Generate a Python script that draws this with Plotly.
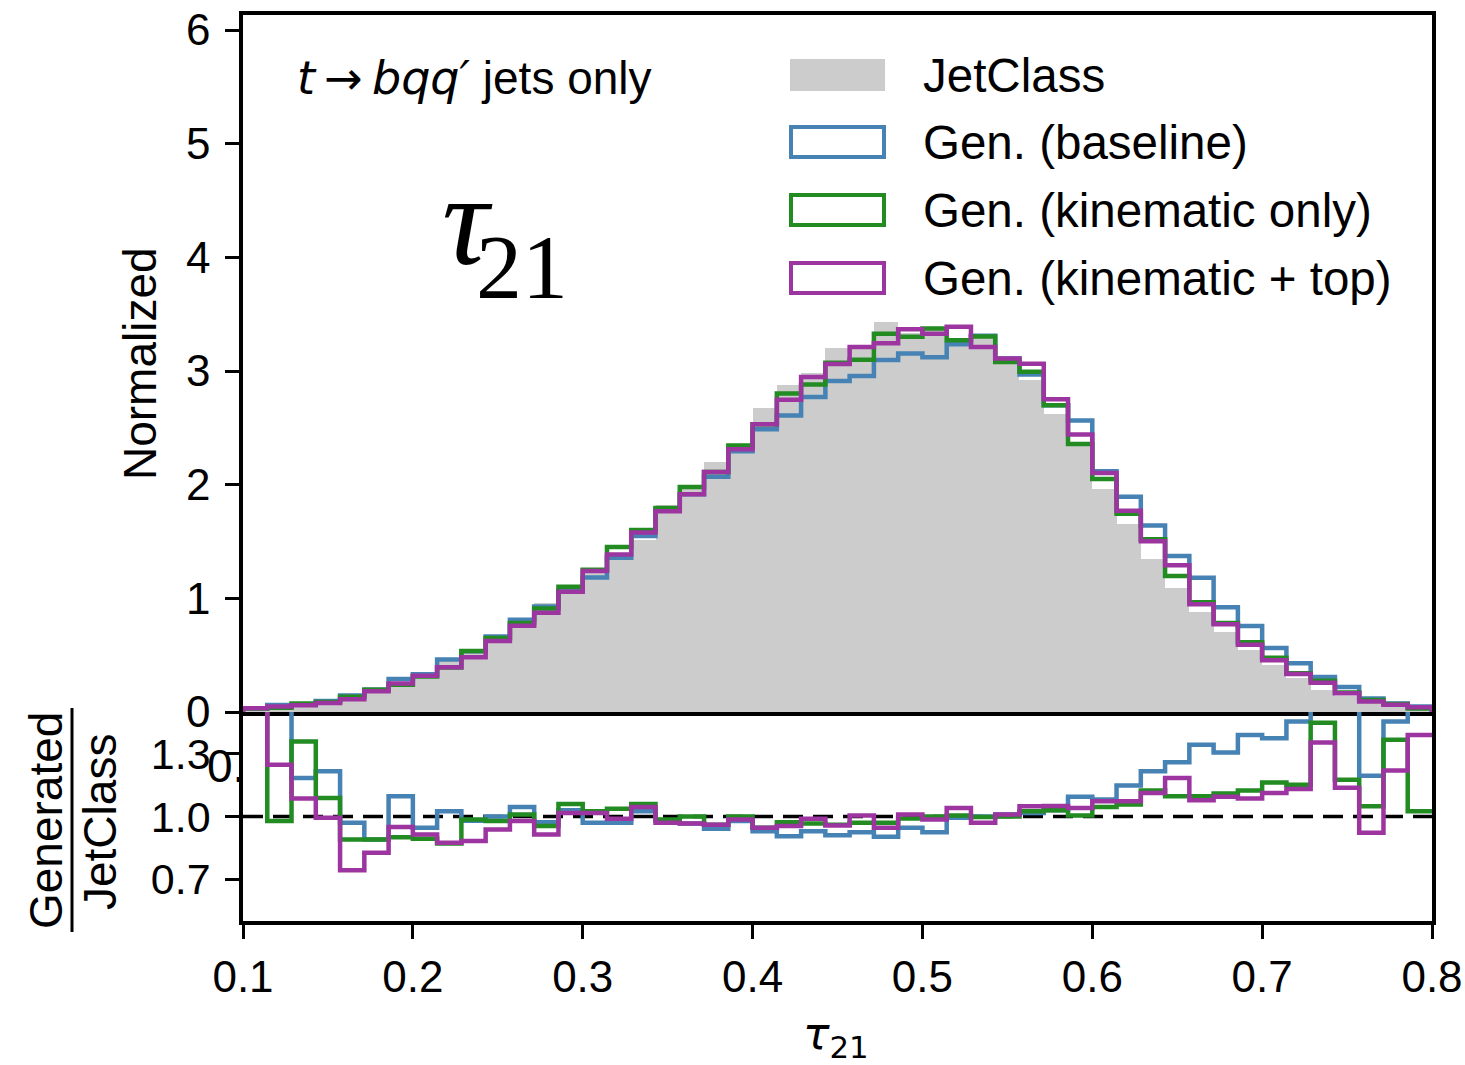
import numpy as np
import plotly.graph_objects as go

# ---------------- data ----------------
bin_edges = np.linspace(0.1, 0.8, 50)  # 49 bins

jetclass = [0.018, 0.038, 0.055, 0.08, 0.15, 0.22, 0.265, 0.35, 0.45, 0.545,
            0.665, 0.775, 0.955, 1.04, 1.22, 1.40, 1.51, 1.82, 1.98, 2.2,
            2.345, 2.675, 2.88, 2.98, 3.2, 3.195, 3.43, 3.335, 3.375, 3.255,
            3.31, 3.08, 2.92, 2.62, 2.345, 1.96, 1.65, 1.35, 1.09, 0.88,
            0.705, 0.545, 0.41, 0.295, 0.19, 0.145, 0.1, 0.052, 0.03]

ratio_baseline = [1.8, 1.6, 1.184, 1.216, 0.97, 0.89, 1.097, 0.946, 1.025, 0.98,
                  1.0, 1.046, 0.973, 1.03, 0.97, 0.97, 1.025, 0.98, 0.967, 0.941,
                  0.978, 0.93, 0.906, 0.93, 0.91, 0.925, 0.903, 0.946, 0.925, 0.994,
                  1.0, 1.01, 1.017, 1.03, 1.094, 1.081, 1.148, 1.216, 1.259, 1.343,
                  1.306, 1.39, 1.375, 1.454, 1.62, 1.52, 1.195, 1.454, 1.6]

ratio_kinematic = [1.7, 0.978, 1.359, 1.089, 0.89, 0.89, 0.901, 0.894, 0.871, 0.986,
                   0.978, 1.01, 0.954, 1.06, 1.025, 1.037, 1.06, 0.986, 1.0, 0.96,
                   1.0, 0.946, 0.973, 0.967, 0.96, 0.97, 0.97, 0.99, 1.0, 1.005,
                   0.998, 1.0, 1.025, 1.03, 1.005, 1.046, 1.057, 1.125, 1.097, 1.097,
                   1.11, 1.125, 1.163, 1.152, 1.449, 1.176, 1.049, 1.367, 1.025]

ratio_kin_top = [1.8, 1.248, 1.086, 0.994, 0.743, 0.827, 0.95, 0.914, 0.875, 0.883,
                 0.938, 0.978, 0.914, 1.017, 1.017, 0.989, 1.046, 0.97, 0.967, 0.96,
                 0.986, 0.946, 0.954, 0.989, 0.957, 1.005, 0.946, 1.01, 0.986, 1.041,
                 0.97, 1.01, 1.049, 1.05, 1.041, 1.073, 1.073, 1.113, 1.184, 1.078,
                 1.094, 1.086, 1.113, 1.132, 1.354, 1.137, 0.922, 1.22, 1.39]

series_names = ["Gen. (baseline)", "Gen. (kinematic only)", "Gen. (kinematic + top)"]
series_colors = ["#4682b4", "#228b22", "#9c35a0"]
x_ticks = [0.1, 0.2, 0.3, 0.4, 0.5, 0.6, 0.7, 0.8]
main_y_ticks = [0, 1, 2, 3, 4, 5, 6]
ratio_y_ticks = [0.7, 1.0, 1.3]

# ---------------- geometry ----------------
W, H = 1465, 1065
L, R, T, B = 243, 1432, 15, 921
SPLIT = 712


def px(x):
    return (x - L) / (R - L)


def py(y):
    return (B - y) / (B - T)


jc = np.array(jetclass)
ratios = [np.array(ratio_baseline), np.array(ratio_kinematic), np.array(ratio_kin_top)]
gens = [jc * r for r in ratios]
centers = 0.5 * (bin_edges[:-1] + bin_edges[1:])
width = bin_edges[1] - bin_edges[0]


def step(vals, close):
    x = list(bin_edges)
    y = list(vals) + [vals[-1]]
    if close:
        x = [bin_edges[0]] + x + [bin_edges[-1]]
        y = [0.0] + y + [0.0]
    return x, y


fig = go.Figure()
fig.add_trace(go.Bar(x=centers, y=jc, width=width, marker=dict(color="#cccccc", line=dict(width=0)),
                     xaxis="x", yaxis="y", name="JetClass"))
for g, c, n in zip(gens, series_colors, series_names):
    xs, ys = step(g, True)
    fig.add_trace(go.Scatter(x=xs, y=ys, mode="lines", line=dict(color=c, width=4.5, shape="hv"),
                             xaxis="x", yaxis="y", name=n))
for r, c, n in zip(ratios, series_colors, series_names):
    xs, ys = step(r, False)
    fig.add_trace(go.Scatter(x=xs, y=ys, mode="lines", line=dict(color=c, width=4.5, shape="hv"),
                             xaxis="x2", yaxis="y2", name=n))

split_frac = py(SPLIT)
line_common = dict(showline=True, linecolor="black", linewidth=3.5,
                   showgrid=False, zeroline=False, automargin=False)
sans = "Liberation Sans, Arial, sans-serif"
tickfont = dict(family=sans, size=44, color="black")

fig.update_layout(
    width=W, height=H,
    margin=dict(l=L, r=W - R, t=T, b=H - B, autoexpand=False),
    plot_bgcolor="white", paper_bgcolor="white",
    showlegend=False, bargap=0,
    xaxis=dict(domain=[0, 1], anchor="y", range=[0.1, 0.8], matches="x2", mirror=True,
               showticklabels=False, ticks="", **line_common),
    yaxis=dict(domain=[split_frac, 1], anchor="x", range=[0, 6 + (30 - T) / ((SPLIT - 30) / 6)],
               tickvals=main_y_ticks, ticktext=[str(v) for v in main_y_ticks], mirror=True,
               ticks="outside", ticklen=14, tickwidth=3, tickcolor="black",
               tickfont=tickfont, ticklabelstandoff=6, **line_common),
    xaxis2=dict(domain=[0, 1], anchor="y2", range=[0.1, 0.8], mirror=False,
                tickvals=x_ticks, ticktext=[f"{v:.1f}" for v in x_ticks],
                ticks="outside", ticklen=14, tickwidth=3, tickcolor="black",
                tickfont=tickfont, ticklabelstandoff=0, **line_common),
    yaxis2=dict(domain=[0, split_frac], anchor="x2", range=[0.5, 1.5], mirror=True,
                tickvals=ratio_y_ticks, ticktext=[f"{v:.1f}" for v in ratio_y_ticks],
                ticks="outside", ticklen=14, tickwidth=3, tickcolor="black",
                tickfont=dict(family=sans, size=43, color="black"),
                ticklabelstandoff=6, **line_common),
)

# dashed reference line at ratio 1
fig.add_shape(type="line", xref="x2", yref="y2", x0=0.1, x1=0.8, y0=1.0, y1=1.0,
              line=dict(color="black", width=3.5, dash="20px,10px"), layer="below")

ann = []
# axis titles
ann.append(dict(x=px(140), y=py(364), text="Normalized", textangle=-90, showarrow=False,
                font=dict(family=sans, size=46, color="black"), xanchor="center", yanchor="middle"))
ann.append(dict(x=px(46), y=py(821), text="Generated", textangle=-90, showarrow=False,
                font=dict(family=sans, size=46, color="black"), xanchor="center", yanchor="middle"))
ann.append(dict(x=px(100), y=py(822), text="JetClass", textangle=-90, showarrow=False,
                font=dict(family=sans, size=46, color="black"), xanchor="center", yanchor="middle"))
ann.append(dict(x=px(836), y=py(1036), text="<i>τ</i><sub>21</sub>", showarrow=False,
                font=dict(family="DejaVu Sans", size=44, color="black"), xanchor="center", yanchor="middle"))
# stray label fragment near 1.3
ann.append(dict(x=px(247), y=py(766), text="0.", showarrow=False,
                font=dict(family=sans, size=46, color="black"), xanchor="right", yanchor="middle"))
# in-plot texts
ann.append(dict(x=px(474), y=py(78),
                text=("<span style='font-family:DejaVu Sans'><i>t</i>\u2009→\u2009<i>bqq′</i></span>"
                      " jets only"),
                showarrow=False,
                font=dict(family=sans, size=46, color="black"), xanchor="center", yanchor="middle"))
ann.append(dict(x=px(467), y=py(220), text="<i>τ</i>", showarrow=False,
                font=dict(family="Liberation Serif, Times New Roman, serif", size=130, color="black"),
                xanchor="center", yanchor="middle"))
ann.append(dict(x=px(522), y=py(267), text="21", showarrow=False,
                font=dict(family="Liberation Serif, Times New Roman, serif", size=92, color="black"),
                xanchor="center", yanchor="middle"))

# manual legend
legend_rows = [("JetClass", "#cccccc", True, 75), (series_names[0], series_colors[0], False, 142),
               (series_names[1], series_colors[1], False, 210), (series_names[2], series_colors[2], False, 278)]
for label, color, filled, yc in legend_rows:
    if filled:
        fig.add_shape(type="rect", xref="paper", yref="paper", x0=px(790), x1=px(885),
                      y0=py(yc + 16), y1=py(yc - 16), fillcolor=color, line=dict(width=0))
    else:
        fig.add_shape(type="rect", xref="paper", yref="paper", x0=px(791), x1=px(884),
                      y0=py(yc + 15), y1=py(yc - 15), fillcolor="white", line=dict(color=color, width=4))
    ann.append(dict(x=px(921), y=py(yc), text=label, showarrow=False,
                    font=dict(family=sans, size=47.5, color="black"), xanchor="left", yanchor="middle"))

# fraction bar for ratio label
fig.add_shape(type="line", xref="paper", yref="paper", x0=px(72), x1=px(72), y0=py(708), y1=py(932),
              line=dict(color="black", width=3))

for a in ann:
    a["xref"] = "paper"
    a["yref"] = "paper"
fig.update_layout(annotations=ann)

fig.write_html("out.html")
